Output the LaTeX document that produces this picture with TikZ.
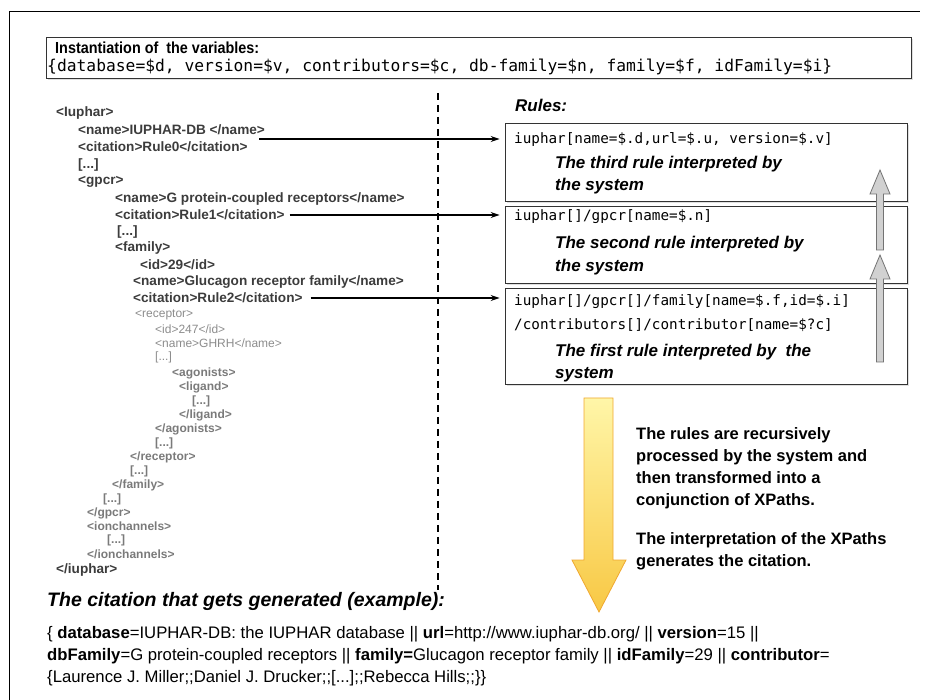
\documentclass[tikz,border=0pt]{standalone}
\usepackage{fontspec}
\setmainfont{Liberation Sans}
\setmonofont{DejaVu Sans Mono}
\usetikzlibrary{arrows.meta,positioning,shadows}

\definecolor{xmldark}{HTML}{3C3C3C}
\definecolor{xmllight}{HTML}{8C8C8C}
\definecolor{xmlmid}{HTML}{7A7A7A}
\definecolor{yellowtop}{HTML}{FFF6A8}
\definecolor{yellowbot}{HTML}{F8C844}
\definecolor{yellowedge}{HTML}{F0A830}

% block arrow pointing up: x, bottom y, tip y
\newcommand{\grayup}[3]{%
  \filldraw[fill=black!18,draw=black!55,line width=0.8pt]
    (#1-3.5,#2) -- (#1-3.5,#3+24) -- (#1-10,#3+24) -- (#1,#3)
    -- (#1+10,#3+24) -- (#1+3.5,#3+24) -- (#1+3.5,#2) -- cycle;}

\begin{document}
\begin{tikzpicture}[x=1pt,y=-1pt,
  xml/.style={anchor=west,inner sep=0pt,text=xmldark,
    font=\fontsize{13.6}{15}\selectfont\bfseries},
  xmlsub/.style={xml,text=xmllight,font=\fontsize{12}{13}\selectfont},
  xmlsubb/.style={xml,text=xmlmid,font=\fontsize{12}{13}\selectfont\bfseries},
  box/.style={draw=black!80,line width=0.8pt,fill=white,
    drop shadow={shadow xshift=1.5pt,shadow yshift=-2pt,opacity=0.25}},
  rule/.style={anchor=west,inner sep=0pt,font=\fontsize{14.3}{16}\ttfamily},
  note/.style={anchor=west,inner sep=0pt,font=\fontsize{17}{20}\selectfont\bfseries\itshape},
  cite/.style={anchor=west,inner sep=0pt,font=\fontsize{16.7}{19}\selectfont},
  link/.style={-{Stealth[length=9pt,width=6pt]},line width=1.4pt,shorten >=5pt}]
  \useasboundingbox (0,0) rectangle (927,700);
  \draw[line width=1pt] (9,700) -- (9,12) -- (920,12);

  % variables
  \node[box,minimum width=865pt,minimum height=41pt] (inst) at (478.5,57.5) {};
  \node[anchor=west,inner sep=0pt] (insttitle) at (55,48)
    {\scalebox{0.9}[1]{\fontsize{16}{18}\selectfont\bfseries Instantiation of\ \ the variables:}};
  \node[anchor=west,inner sep=0pt] (instvars) at (47,67)
    {\fontsize{16.3}{18}\ttfamily\{database=\$d, version=\$v, contributors=\$c, db-family=\$n, family=\$f, idFamily=\$i\}};

  \draw[line width=1.6pt,dash pattern=on 7pt off 5pt] (438,93) -- (438,590);

  % xml document
  \foreach \x/\y/\t [count=\i] in {
      56/113/{<Iuphar>},
      78/130/{<name>IUPHAR-DB </name>},
      78/147/{<citation>Rule0</citation>},
      78/165/{[...]},
      78/182/{<gpcr>},
      115/199/{<name>G protein-coupled receptors</name>},
      115/215/{<citation>Rule1</citation>},
      117/232/{[...]},
      115/248/{<family>},
      140/265/{<id>29</id>},
      133/282/{<name>Glucagon receptor family</name>},
      133/298/{<citation>Rule2</citation>}}
    \node[xml] (x\i) at (\x,\y) {\t};
  \foreach \x/\y/\t [count=\i] in {
      135/315/{<receptor>},
      155/329/{<id>247</id>},
      155/343/{<name>GHRH</name>},
      155/357/{[...]}}
    \node[xmlsub] (r\i) at (\x,\y) {\t};
  \foreach \x/\y/\t [count=\i] in {
      172/373/{<agonists>},
      179/387/{<ligand>},
      192/401/{[...]},
      179/415/{</ligand>},
      155/429/{</agonists>},
      155/443/{[...]},
      130/457/{</receptor>},
      130/471/{[...]},
      112/485/{</family>},
      103/499/{[...]},
      87/513/{</gpcr>},
      87/526/{<ionchannels>},
      107/540/{[...]},
      87/554/{</ionchannels>}}
    \node[xmlsubb] (s\i) at (\x,\y) {\t};
  \node[xml] (xend) at (56,570) {</iuphar>};

  % rules
  \node[note] (rules) at (515,105) {Rules:};
  \node[box,minimum width=402pt,minimum height=78pt] (rulea) at (706,162) {};
  \node[box,minimum width=402pt,minimum height=77pt] (ruleb) at (706,244.5) {};
  \node[box,minimum width=402pt,minimum height=96pt] (rulec) at (706,336) {};

  \node[rule] (ra) at (514,140) {iuphar[name=\$.d,url=\$.u, version=\$.v]};
  \node[note] (na1) at (555,164) {The third rule interpreted by};
  \node[note] (na2) at (555,186) {the system};
  \node[rule] (rb) at (514,217) {iuphar[]/gpcr[name=\$.n]};
  \node[note] (nb1) at (555,244) {The second rule interpreted by};
  \node[note] (nb2) at (555,267) {the system};
  \node[rule] (rc1) at (514,302) {iuphar[]/gpcr[]/family[name=\$.f,id=\$.i]};
  \node[rule] (rc2) at (514,325) {/contributors[]/contributor[name=\$?c]};
  \node[note] (nc1) at (555,352) {The first rule interpreted by\ \ the};
  \node[note] (nc2) at (555,375) {system};

  \grayup{880}{250}{170}
  \grayup{880}{362}{255}

  \coordinate (aa) at ([xshift=-6pt,yshift=-9pt]x2.east);
  \coordinate (ab) at ([xshift=5pt]x7.east);
  \coordinate (ac) at ([xshift=8pt]x12.east);
  \draw[link] (aa) -- (aa -| rulea.west);
  \draw[link] (ab) -- (ab -| ruleb.west);
  \draw[link] (ac) -- (ac -| rulec.west);

  % processing
  \shadedraw[top color=yellowtop,bottom color=yellowbot,draw=yellowedge,line width=0.8pt]
    (584,398) -- (613,398) -- (613,560) -- (626,560) -- (599,612)
    -- (572,560) -- (584,560) -- cycle;
  \node[anchor=north west,inner sep=0pt,align=left,
    font=\fontsize{16.5}{22}\selectfont\bfseries] (proc) at (636,427)
    {The rules are recursively\\processed by the system and\\then transformed into a\\conjunction of XPaths.\\[17pt]
     The interpretation of the XPaths\\generates the citation.};

  % citation
  \node[anchor=west,inner sep=0pt,font=\fontsize{19.5}{22}\selectfont\bfseries\itshape]
    (citehead) at (47,601) {The citation that gets generated (example):};
  \node[cite] (cite1) at (47,634) {\{ \textbf{database}=IUPHAR-DB: the IUPHAR database || \textbf{url}=http://www.iuphar-db.org/ || \textbf{version}=15 ||};
  \node[cite] (cite2) at (47,656) {\textbf{dbFamily}=G protein-coupled receptors || \textbf{family=}Glucagon receptor family || \textbf{idFamily}=29 || \textbf{contributor}=};
  \node[cite] (cite3) at (47,678) {\{Laurence J. Miller;;Daniel J. Drucker;;[...];;Rebecca Hills;;\}\}};
\end{tikzpicture}
\end{document}
